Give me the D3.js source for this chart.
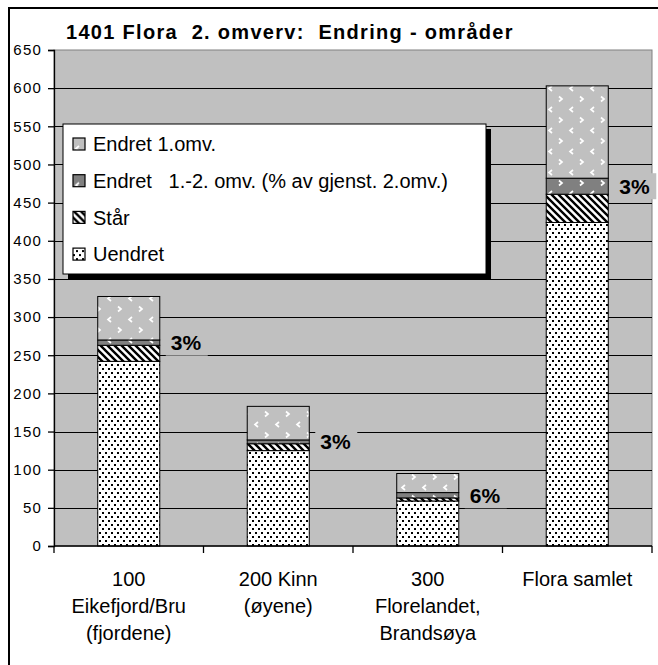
<!DOCTYPE html>
<html lang="en">
<head>
<meta charset="UTF-8">
<title>1401 Flora 2. omverv: Endring - områder</title>
<style>
    body { margin: 0; background: #fff; }
    svg { display: block; font-family: Arial, "Liberation Sans", sans-serif; }
    .pre { white-space: pre; }
</style>
</head>
<body>
<svg id="chart" width="658" height="665"></svg>
<script src="https://d3js.org/d3.v7.min.js"></script>
<script>
// --- data ---
const categories = ["100", "200", "300", "Flora"];
const categoryLines = [
    ["100", "Eikefjord/Bru", "(fjordene)"],
    ["200 Kinn", "(øyene)"],
    ["300", "Florelandet,", "Brandsøya"],
    ["Flora samlet"]
];
const uendret  = [242, 125, 59, 424];
const staar    = [21, 9, 4, 37];
const endret12 = [7, 5, 7, 21];
const endret1  = [57, 44, 25, 121];
const pctLabels = ["3%", "3%", "6%", "3%"];
const yTicks = [0, 50, 100, 150, 200, 250, 300, 350, 400, 450, 500, 550, 600, 650];

const seriesKeys = ["uendret", "staar", "endret12", "endret1"];
const legendNames = {
    endret1: "Endret 1.omv.",
    endret12: "Endret   1.-2. omv. (% av gjenst. 2.omv.)",
    staar: "Står",
    uendret: "Uendret"
};

const rows = categories.map((c, i) => ({
    cat: c, uendret: uendret[i], staar: staar[i], endret12: endret12[i], endret1: endret1[i]
}));

const svg = d3.select("#chart");
const plot = { left: 54, right: 652, top: 50, bottom: 546 };

// --- patterns ---
const defs = svg.append("defs");

const pDots = defs.append("pattern").attr("id", "p-uendret")
    .attr("patternUnits", "userSpaceOnUse").attr("width", 6).attr("height", 8);
pDots.append("rect").attr("width", 6).attr("height", 8).attr("fill", "#fff");
pDots.append("rect").attr("x", 0).attr("y", 0).attr("width", 2).attr("height", 2).attr("fill", "#000");
pDots.append("rect").attr("x", 3).attr("y", 4).attr("width", 2).attr("height", 2).attr("fill", "#000");

const pHatch = defs.append("pattern").attr("id", "p-staar")
    .attr("patternUnits", "userSpaceOnUse").attr("width", 7).attr("height", 7);
pHatch.append("rect").attr("width", 7).attr("height", 7).attr("fill", "#fff");
pHatch.append("path").attr("d", "M-1,-1 L8,8 M-1,6 L1,8 M6,-1 L8,1")
    .attr("stroke", "#000").attr("stroke-width", 2.4);

function chevronPattern(id, base) {
    const p = defs.append("pattern").attr("id", id)
        .attr("patternUnits", "userSpaceOnUse").attr("width", 21).attr("height", 21);
    p.append("rect").attr("width", 21).attr("height", 21).attr("fill", base);
    p.append("path").attr("d", "M6,2 L3,4.5 L6,7")
        .attr("fill", "none").attr("stroke", "#fff").attr("stroke-width", 1.7);
    p.append("path").attr("d", "M13,12.5 L16,15 L13,17.5")
        .attr("fill", "none").attr("stroke", "#fff").attr("stroke-width", 1.7);
}
chevronPattern("p-endret1", "#c0c0c0");
chevronPattern("p-endret12", "#808080");

const fills = {
    uendret: "url(#p-uendret)",
    staar: "url(#p-staar)",
    endret12: "url(#p-endret12)",
    endret1: "url(#p-endret1)"
};

// --- outer frame & title ---
svg.append("rect").attr("x", 9).attr("y", 8).attr("width", 700).attr("height", 700)
    .attr("fill", "#fff").attr("stroke", "#000").attr("stroke-width", 2);

svg.append("text").attr("x", 66).attr("y", 39)
    .attr("font-size", 20).attr("font-weight", "bold").attr("letter-spacing", 1.3)
    .attr("class", "pre")
    .text("1401 Flora  2. omverv:  Endring - områder");

// --- scales ---
const x = d3.scaleBand().domain(categories)
    .range([plot.left, plot.right]).paddingInner(0.585).paddingOuter(0.2925);
const y = d3.scaleLinear().domain([0, 650]).range([plot.bottom, plot.top]);

// plot area
svg.append("rect").attr("x", plot.left).attr("y", plot.top)
    .attr("width", plot.right - plot.left).attr("height", plot.bottom - plot.top)
    .attr("fill", "#c0c0c0").attr("stroke", "#808080");

// gridlines
svg.append("g").selectAll("line").data(yTicks.filter(d => d > 0 && d < 650)).join("line")
    .attr("x1", plot.left).attr("x2", plot.right)
    .attr("y1", d => Math.round(y(d)) + 0.5).attr("y2", d => Math.round(y(d)) + 0.5)
    .attr("stroke", "#000");

// --- stacked bars ---
const stacked = d3.stack().keys(seriesKeys)(rows);
svg.append("g").selectAll("g").data(stacked).join("g")
    .attr("fill", d => fills[d.key])
    .selectAll("rect").data(d => d).join("rect")
    .attr("x", d => x(d.data.cat))
    .attr("width", x.bandwidth())
    .attr("y", d => y(d[1]))
    .attr("height", d => y(d[0]) - y(d[1]))
    .attr("stroke", "#000").attr("stroke-width", 1);

// --- percentage labels on the "Endret 1.-2." segment ---
const midSeg = stacked.find(s => s.key === "endret12");
const lbl = svg.append("g").selectAll("g").data(midSeg).join("g")
    .attr("transform", (d, i) =>
        `translate(${x(d.data.cat) + x.bandwidth() + 11},${y((d[0] + d[1]) / 2)})`);
lbl.append("rect").attr("x", -5).attr("y", -13).attr("width", 42).attr("height", 26)
    .attr("fill", "#c0c0c0");
lbl.append("text").attr("dy", "0.36em")
    .attr("font-size", 21).attr("font-weight", "bold")
    .text((d, i) => pctLabels[i]);

// --- axes ---
const yAxis = svg.append("g").attr("transform", `translate(${plot.left},0)`)
    .call(d3.axisLeft(y).tickValues(yTicks).tickSize(6).tickPadding(6));
yAxis.select(".domain").attr("stroke", "#000").attr("stroke-width", 1.3);
yAxis.selectAll(".tick line").attr("stroke", "#000").attr("stroke-width", 1.3);
yAxis.selectAll(".tick text").attr("font-size", 15).attr("letter-spacing", 1.2)
    .attr("font-family", "Arial, 'Liberation Sans', sans-serif").attr("fill", "#000");

const xAxisG = svg.append("g");
xAxisG.append("line").attr("x1", plot.left).attr("x2", plot.right)
    .attr("y1", plot.bottom).attr("y2", plot.bottom)
    .attr("stroke", "#000").attr("stroke-width", 1.3);
const bounds = categories.map(c => x(c) - x.step() * x.paddingInner() / 2)
    .concat([plot.right]);
xAxisG.selectAll("line.tk").data(bounds).join("line").attr("class", "tk")
    .attr("x1", d => d).attr("x2", d => d)
    .attr("y1", plot.bottom).attr("y2", plot.bottom + 7)
    .attr("stroke", "#000").attr("stroke-width", 1.3);

const catText = svg.append("g").selectAll("text").data(categories).join("text")
    .attr("text-anchor", "middle").attr("font-size", 20)
    .attr("x", c => x(c) + x.bandwidth() / 2).attr("y", 586);
catText.selectAll("tspan").data((c, i) => categoryLines[i]).join("tspan")
    .attr("x", function () { return this.parentNode.getAttribute("x"); })
    .attr("dy", (d, j) => j === 0 ? 0 : 27)
    .text(d => d);

// --- legend ---
const legend = { x: 63, y: 124, w: 423, h: 150 };
svg.append("rect").attr("x", legend.x + 5).attr("y", legend.y + 5)
    .attr("width", legend.w).attr("height", legend.h).attr("fill", "#000");
svg.append("rect").attr("x", legend.x).attr("y", legend.y)
    .attr("width", legend.w).attr("height", legend.h)
    .attr("fill", "#fff").attr("stroke", "#000");

const legendKeys = seriesKeys.slice().reverse();
const li = svg.append("g").selectAll("g").data(legendKeys).join("g")
    .attr("transform", (k, i) => `translate(${legend.x + 10},${legend.y + 20 + i * 36.7})`);
li.append("rect").attr("x", 0).attr("y", -6).attr("width", 12).attr("height", 12)
    .attr("fill", k => fills[k]).attr("stroke", "#000").attr("stroke-width", 1.2);
li.append("text").attr("x", 20).attr("dy", "0.36em").attr("font-size", 20)
    .attr("class", "pre")
    .text(k => legendNames[k]);
</script>
</body>
</html>
